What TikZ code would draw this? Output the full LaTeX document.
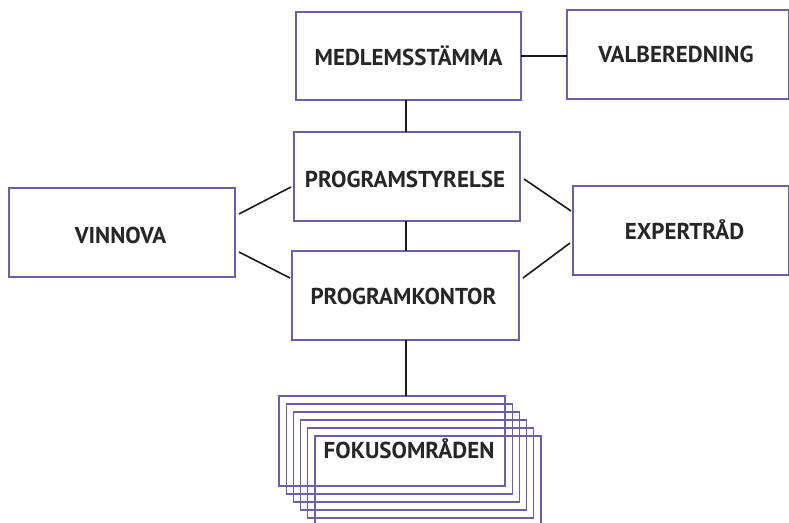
\documentclass[tikz,border=0pt]{standalone}
\usepackage{fontspec}
\setmainfont{PT Sans}
\begin{document}
\begin{tikzpicture}[x=1pt,y=-1pt,
  box/.style={draw=boxcol, line width=1.2pt},
  lbl/.style={font=\bfseries\fontsize{23}{26}\selectfont, text=black!85, inner sep=0pt, anchor=base},
  link/.style={draw=black!90, line width=1.6pt}]
\definecolor{boxcol}{HTML}{6B5FAA}
\useasboundingbox (0,0) rectangle (789,522);
% boxes
\draw[box] (296,12) rectangle (521,100);
\draw[box] (567,10) rectangle (788.5,99);
\draw[box] (294,132) rectangle (520,221);
\draw[box] (292,251) rectangle (519,340);
\draw[box] (9,188) rectangle (235,277);
\draw[box] (573,186) rectangle (788.5,275);
\foreach \i in {0,...,5}{
  \draw[box] (279+7.2*\i,396+8*\i) rectangle ++(226,90);
}
% labels
\node[lbl] (medlemsstamma) at (408.5,65) {MEDLEMSSTÄMMA};
\node[lbl] (valberedning) at (676,62) {VALBEREDNING};
\node[lbl] (programstyrelse) at (405,187) {PROGRAMSTYRELSE};
\node[lbl] (programkontor) at (403.5,304) {PROGRAMKONTOR};
\node[lbl] (vinnova) at (120.5,243) {VINNOVA};
\node[lbl] (expertrad) at (684.5,239.5) {EXPERTRÅD};
\node[lbl] (fokus) at (409,458) {FOKUSOMRÅDEN};
% connector coordinates
\coordinate (m-r) at (521,56);
\coordinate (v-l) at (567,56);
\coordinate (m-b) at (406,100);
\coordinate (s-t) at (406,132);
\coordinate (s-b) at (406,221);
\coordinate (k-t) at (406,251);
\coordinate (k-b) at (406,340);
\coordinate (f-t) at (406,396);
\coordinate (vi-a) at (239,214);
\coordinate (s-la) at (291,187);
\coordinate (vi-b) at (239,252);
\coordinate (k-la) at (290,278);
\coordinate (s-ra) at (524,179);
\coordinate (e-a) at (571,211);
\coordinate (k-ra) at (523,278);
\coordinate (e-b) at (570,243);
\draw[link] (m-r) -- (v-l);
\draw[link] (m-b) -- (s-t);
\draw[link] (s-b) -- (k-t);
\draw[link] (k-b) -- (f-t);
\draw[link] (vi-a) -- (s-la);
\draw[link] (vi-b) -- (k-la);
\draw[link] (s-ra) -- (e-a);
\draw[link] (k-ra) -- (e-b);
\end{tikzpicture}
\end{document}
